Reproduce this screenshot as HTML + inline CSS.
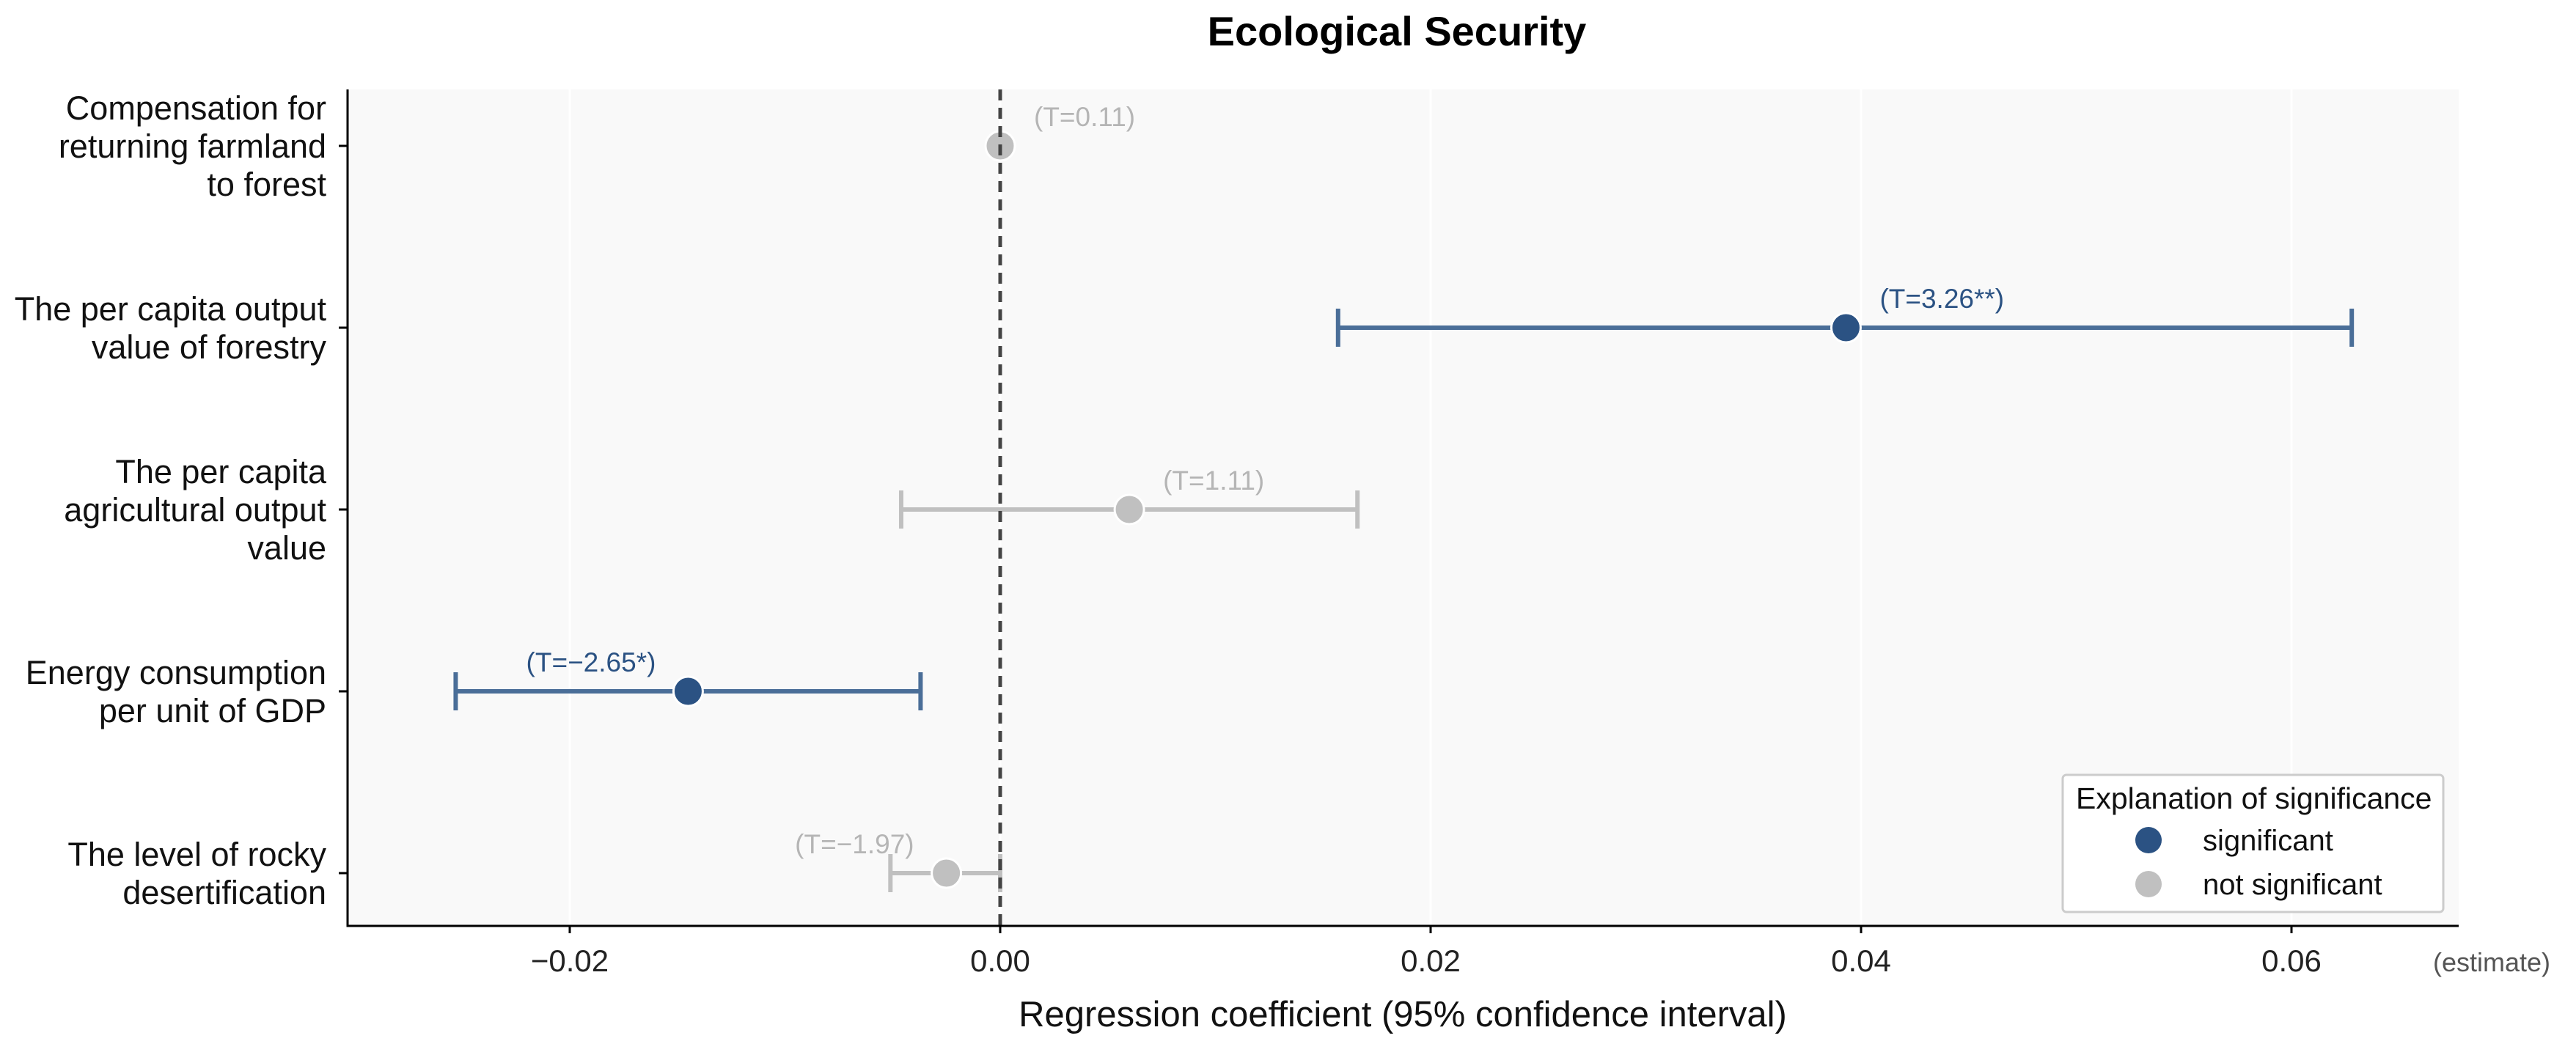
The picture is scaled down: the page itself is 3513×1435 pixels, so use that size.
<!DOCTYPE html>
<html><head><meta charset="utf-8"><style>
html,body{margin:0;padding:0;background:#fff;}
svg{display:block;font-family:"Liberation Sans",Arial,sans-serif;}
</style></head><body>
<svg id="chart" width="3513" height="1435" viewBox="0 0 3513 1435" xmlns="http://www.w3.org/2000/svg">
<text x="1905" y="62" text-anchor="middle" font-size="56" font-weight="bold" fill="#000">Ecological Security</text>
<g id="plot"></g>
</svg>
<script>
const categories = [
  ["Compensation for","returning farmland","to forest"],
  ["The per capita output","value of forestry"],
  ["The per capita","agricultural output","value"],
  ["Energy consumption","per unit of GDP"],
  ["The level of rocky","desertification"]
];
const estimates = [0.0000, 0.0393, 0.0060, -0.0145, -0.0025];
const lower = [0.0000, 0.0157, -0.0046, -0.0253, -0.0051];
const upper = [0.0000, 0.0628, 0.0166, -0.0037, 0.0000];
const significant = [false, true, false, true, false];
const tLabels = ["(T=0.11)","(T=3.26**)","(T=1.11)","(T=\u22122.65*)","(T=\u22121.97)"];
const xTicks = [-0.02, 0, 0.02, 0.04, 0.06];
const xTickLabels = ["\u22120.02","0.00","0.02","0.04","0.06"];

const L=474,R=3353,T=122,B=1263;
const x0=1364, pxPer=29350;
function xs(v){return x0+v*pxPer;}
function ys(i){return 199+i*248;}
const NS="http://www.w3.org/2000/svg";
const g=document.getElementById('plot');
function el(tag,attrs,parent){const e=document.createElementNS(NS,tag);for(const k in attrs)e.setAttribute(k,attrs[k]);(parent||g).appendChild(e);return e;}

let bg=el('rect',{x:L,y:T,width:R-L,height:B-T,fill:'#f9f9f9'});


xTicks.forEach((v,i)=>{
  let gl=el('line',{x1:xs(v),x2:xs(v),y1:T,y2:B,stroke:'#fff','stroke-width':3});
  
  
  let tk=el('line',{x1:xs(v),x2:xs(v),y1:B,y2:B+10,stroke:'#000','stroke-width':3});
  
  
  let tl=el('text',{x:xs(v),y:1325,'text-anchor':'middle','font-size':42,fill:'#222'});
  tl.textContent=xTickLabels[i];
  
  
});
const navy='#2b5283', navyBar='#4a6e98', grey='#c0c0c0';
categories.forEach((lines,i)=>{
  const y=ys(i);
  const sig=significant[i];
  if(upper[i]-lower[i]>0){
    const c=sig?navyBar:grey;
    let bar=el('line',{x1:xs(lower[i]),x2:xs(upper[i]),y1:y,y2:y,stroke:c,'stroke-width':6});
    
    
    [lower[i],upper[i]].forEach(v=>{
      let cap=el('line',{x1:xs(v),x2:xs(v),y1:y-26,y2:y+26,stroke:c,'stroke-width':6});
      
      
    });
  }
  let pt=el('circle',{cx:xs(estimates[i]),cy:y,r:20,fill:sig?navy:grey,stroke:'#fff','stroke-width':3});
  
  
  const left=estimates[i]<0;
  let lab=el('text',{x:xs(estimates[i])+(left?-44:46),y:y-27,'text-anchor':left?'end':'start','font-size':37,fill:sig?navy:'#b5b5b5'});
  lab.textContent=tLabels[i];
  
  
  let yt=el('line',{x1:L-12,x2:L,y1:y,y2:y,stroke:'#000','stroke-width':3});
  
  
  const n=lines.length, lh=52;
  lines.forEach((s,j)=>{
    let t=el('text',{x:445,y:y+16+(j-(n-1)/2)*lh,'text-anchor':'end','font-size':45,fill:'#111'});
    t.textContent=s;
    
    
  });
});
let zl=el('line',{x1:xs(0),x2:xs(0),y1:T,y2:B,stroke:'#444','stroke-width':5,'stroke-dasharray':'15 10'});


let ya=el('line',{x1:L,x2:L,y1:T,y2:B+1.5,stroke:'#000','stroke-width':3});


let xa=el('line',{x1:L-1.5,x2:R,y1:B,y2:B,stroke:'#000','stroke-width':3});


let est=el('text',{x:3318,y:1325,'font-size':36,fill:'#555'});
est.textContent='(estimate)';


let xt=el('text',{x:1913,y:1400,'text-anchor':'middle','font-size':49,fill:'#111'});
xt.textContent='Regression coefficient (95% confidence interval)';


// legend
let lg=el('g',{});


el('rect',{x:2813,y:1057,width:519,height:187,rx:5,fill:'#fff',stroke:'#ccc','stroke-width':3},lg);
let lt=el('text',{x:2831,y:1103,'font-size':41,fill:'#111'},lg);
lt.textContent='Explanation of significance';


[['significant',navy,1146],['not significant',grey,1206]].forEach(([s,c,y])=>{
  let d=el('circle',{cx:2930,cy:y,r:18,fill:c},lg);
  
  
  let t=el('text',{x:3004,y:y+14,'font-size':40,fill:'#111'},lg);
  t.textContent=s;
  
  
});
</script>
</body></html>
